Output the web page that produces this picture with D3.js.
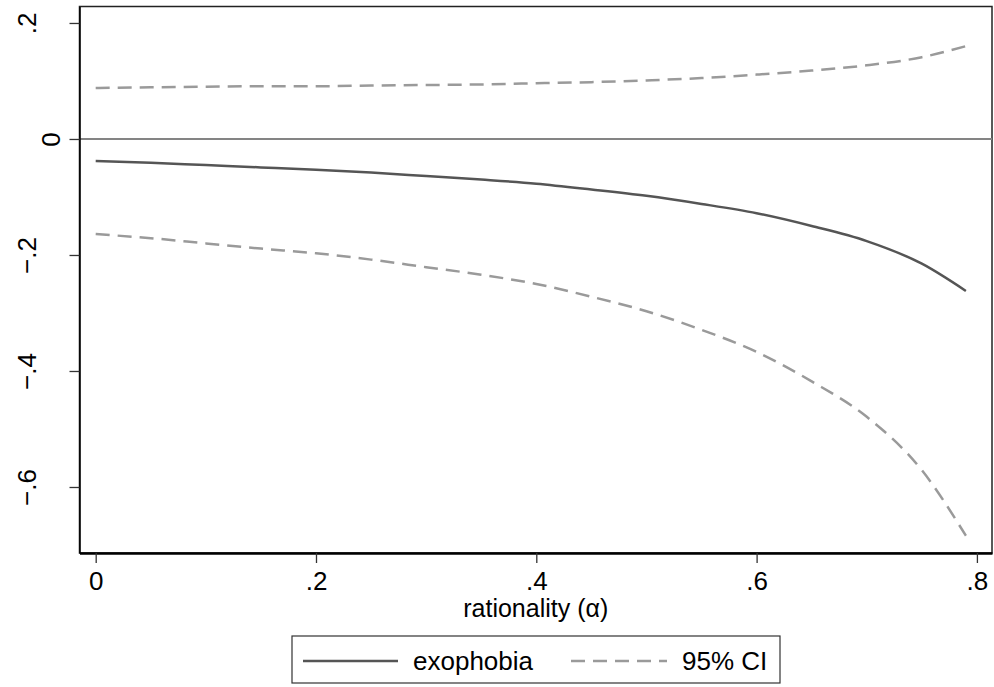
<!DOCTYPE html>
<html>
<head>
<meta charset="utf-8">
<script src="https://cdn.jsdelivr.net/npm/d3@7"></script>
<style>
  body { margin: 0; background: #fff; }
  text { font-family: "Liberation Sans", Arial, sans-serif; }
</style>
</head>
<body>
<svg id="svg"></svg>
<script>
// values
let alpha     = [0, 0.05, 0.1, 0.15, 0.2, 0.25, 0.3, 0.35, 0.4, 0.45, 0.5, 0.55, 0.6, 0.65, 0.7, 0.75, 0.79];
let exophobia = [-0.038, -0.041, -0.045, -0.049, -0.053, -0.058, -0.064, -0.070, -0.077, -0.087, -0.098, -0.112, -0.128, -0.150, -0.176, -0.215, -0.262];
let ciUpper   = [0.088, 0.089, 0.090, 0.091, 0.091, 0.092, 0.093, 0.094, 0.096, 0.098, 0.101, 0.105, 0.111, 0.118, 0.127, 0.141, 0.160];
let ciLower   = [-0.164, -0.171, -0.180, -0.189, -0.197, -0.208, -0.221, -0.234, -0.250, -0.272, -0.297, -0.329, -0.367, -0.418, -0.479, -0.571, -0.684];

let xTicks = [0, 0.2, 0.4, 0.6, 0.8];
let yTicks = [-0.6, -0.4, -0.2, 0, 0.2];
let legendLabels = ["exophobia", "95% CI"];

let width = 994, height = 687;
let margin = { left: 79.5, right: 2, top: 6.5, bottom: 134 };
let fontSize = 26;

let svg = d3.select("#svg").attr("width", width).attr("height", height);

let x = d3.scaleLinear()
          .domain([-0.0147, 0.8137])
          .range([margin.left, width - margin.right]);
let y = d3.scaleLinear()
          .domain([-0.7138, 0.2284])
          .range([height - margin.bottom, margin.top]);

// tick label formatting like ".2", "-.4", "0"
function fmt(v) {
  if (Math.abs(v) < 1e-9) return "0";
  return d3.format(".1f")(v).replace("0.", ".");
}

// plot region outline
svg.append("rect")
   .attr("x", x.range()[0]).attr("y", y.range()[1])
   .attr("width", x.range()[1] - x.range()[0])
   .attr("height", y.range()[0] - y.range()[1])
   .attr("fill", "none")
   .attr("stroke", "#222")
   .attr("stroke-width", 1.5);

// zero reference line
svg.append("line")
   .attr("x1", x.range()[0]).attr("x2", x.range()[1])
   .attr("y1", y(0)).attr("y2", y(0))
   .attr("stroke", "#848484")
   .attr("stroke-width", 2.2);

// axes
let xAxis = svg.append("g")
   .attr("transform", `translate(0,${y.range()[0]})`)
   .call(d3.axisBottom(x).tickValues(xTicks).tickFormat(fmt).tickSizeInner(10).tickSizeOuter(0).tickPadding(9));
xAxis.select(".domain").attr("stroke", "#000").attr("stroke-width", 2.5);
xAxis.selectAll(".tick line").attr("stroke", "#333").attr("stroke-width", 1.3);
xAxis.selectAll(".tick text").attr("font-size", fontSize).attr("fill", "#000")
     .attr("font-family", "Liberation Sans, Arial, sans-serif");

let yAxis = svg.append("g")
   .attr("transform", `translate(${x.range()[0]},0)`)
   .call(d3.axisLeft(y).tickValues(yTicks).tickFormat(fmt).tickSizeInner(10).tickSizeOuter(0));
yAxis.select(".domain").attr("stroke", "#000").attr("stroke-width", 1.5);
yAxis.selectAll(".tick line").attr("stroke", "#333").attr("stroke-width", 1.3);
// rotated labels, baseline placed as in the reference
yAxis.selectAll(".tick text")
     .attr("font-size", fontSize).attr("fill", "#000")
     .attr("font-family", "Liberation Sans, Arial, sans-serif")
     .attr("text-anchor", "middle")
     .attr("dy", null)
     .attr("x", null)
     .attr("transform", d => `translate(${(Math.abs(d) < 1e-9 ? 60 : 36) - x.range()[0]},0) rotate(-90)`);

// x axis title
svg.append("text")
   .attr("x", (x.range()[0] + x.range()[1]) / 2)
   .attr("y", 617)
   .attr("text-anchor", "middle")
   .attr("font-size", fontSize - 1)
   .text("rationality (α)");

// series lines
let line = (vals) => d3.line()
   .x((d, i) => x(alpha[i]))
   .y(d => y(d))
   .curve(d3.curveMonotoneX)(vals);

svg.append("path").attr("d", line(ciUpper))
   .attr("fill", "none").attr("stroke", "#9a9a9a").attr("stroke-width", 2.5)
   .attr("stroke-dasharray", "14,8");
svg.append("path").attr("d", line(ciLower))
   .attr("fill", "none").attr("stroke", "#9a9a9a").attr("stroke-width", 2.5)
   .attr("stroke-dasharray", "14,8");
svg.append("path").attr("d", line(exophobia))
   .attr("fill", "none").attr("stroke", "#555").attr("stroke-width", 2.5);

// legend
let lg = svg.append("g");
lg.append("rect")
  .attr("x", 292).attr("y", 636).attr("width", 488).attr("height", 47)
  .attr("fill", "#fff").attr("stroke", "#333").attr("stroke-width", 1.2);
lg.append("line").attr("x1", 303).attr("x2", 398).attr("y1", 661).attr("y2", 661)
  .attr("stroke", "#555").attr("stroke-width", 2.5);
lg.append("text").attr("x", 413).attr("y", 670).attr("font-size", fontSize).text(legendLabels[0]);
lg.append("line").attr("x1", 571).attr("x2", 667).attr("y1", 661).attr("y2", 661)
  .attr("stroke", "#9a9a9a").attr("stroke-width", 2.5).attr("stroke-dasharray", "14,8");
lg.append("text").attr("x", 682).attr("y", 670).attr("font-size", fontSize).text(legendLabels[1]);
</script>
</body>
</html>
